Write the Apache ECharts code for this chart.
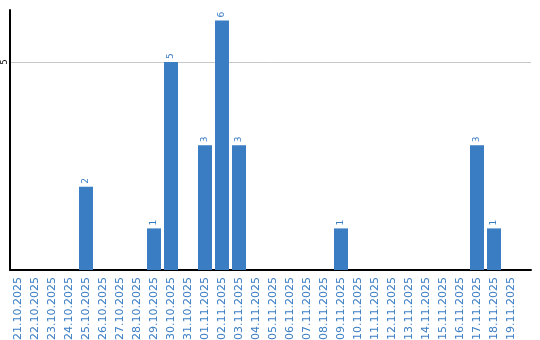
<!DOCTYPE html>
<html>
<head>
<meta charset="utf-8">
<script src="https://cdn.jsdelivr.net/npm/echarts@6/dist/echarts.min.js"></script>
<style>html,body{margin:0;padding:0;background:#fff;}#c{width:540px;height:340px;}</style>
</head>
<body>
<div id="c"></div>
<script>
var categories = ['21.10.2025','22.10.2025','23.10.2025','24.10.2025','25.10.2025','26.10.2025','27.10.2025','28.10.2025','29.10.2025','30.10.2025','31.10.2025','01.11.2025','02.11.2025','03.11.2025','04.11.2025','05.11.2025','06.11.2025','07.11.2025','08.11.2025','09.11.2025','10.11.2025','11.11.2025','12.11.2025','13.11.2025','14.11.2025','15.11.2025','16.11.2025','17.11.2025','18.11.2025','19.11.2025'];
var values = [0,0,0,0,2,0,0,0,1,5,0,3,6,3,0,0,0,0,0,1,0,0,0,0,0,0,0,3,1,0];
var yMax = 6.25;
var yInterval = 5;

var blue = '#3a7dc3';
var chart = echarts.init(document.getElementById('c'), null, {renderer: 'canvas'});
chart.setOption({
  animation: false,
  backgroundColor: '#fff',
  textStyle: {fontFamily: 'DejaVu Sans'},
  grid: [
    {left: 9.5, width: 510, top: 10, bottom: 70, containLabel: false, outerBoundsMode: 'none'},
    {left: 10, right: 9, top: 10, bottom: 70, containLabel: false, outerBoundsMode: 'none'}
  ],
  xAxis: [
    {
      type: 'category', gridIndex: 0, data: categories, boundaryGap: true,
      axisLine: {show: false}, axisTick: {show: false},
      axisLabel: {rotate: 90, color: blue, fontSize: 11, fontFamily: 'DejaVu Sans', margin: 7, interval: 0}
    },
    {
      type: 'value', gridIndex: 1, min: 0, max: 1,
      axisLine: {show: true, onZero: false, lineStyle: {color: '#000', width: 2}},
      axisTick: {show: false}, axisLabel: {show: false}, splitLine: {show: false}
    }
  ],
  yAxis: [
    {
      type: 'value', gridIndex: 0, min: 0, max: yMax, interval: yInterval,
      show: false
    },
    {
      type: 'value', gridIndex: 1, min: 0, max: yMax, interval: yInterval,
      axisLine: {show: true, lineStyle: {color: '#000', width: 2}},
      axisTick: {show: false},
      axisLabel: {rotate: 90, fontSize: 8, color: '#000', margin: 1, showMaxLabel: false,
        formatter: function(v){ return v === 0 ? '' : String(v); }},
      splitLine: {show: true, showMaxLine: false, showMinLine: false, lineStyle: {color: '#c8c8c8', width: 1}}
    }
  ],
  series: [{
    type: 'bar', xAxisIndex: 0, yAxisIndex: 0,
    data: values, barWidth: 14,
    itemStyle: {color: blue},
    label: {
      show: true, position: 'top', rotate: 90, align: 'left', verticalAlign: 'middle',
      distance: 3, color: blue, fontSize: 9, fontFamily: 'DejaVu Sans',
      formatter: function(p){ return p.value ? String(p.value) : ''; }
    }
  }]
});
</script>
</body>
</html>
